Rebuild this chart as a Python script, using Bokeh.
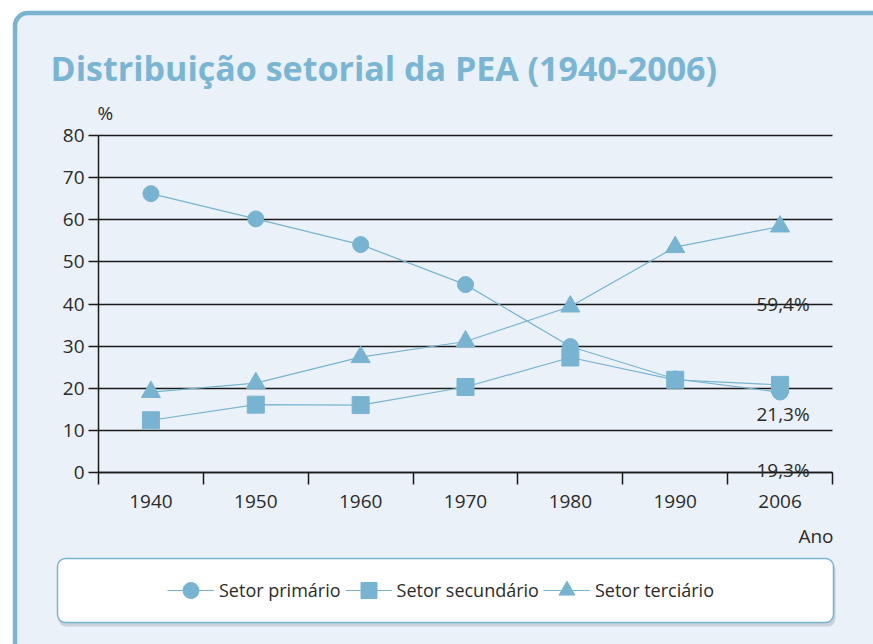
from bokeh.plotting import figure
from bokeh.models import (FixedTicker, Label, Legend, LegendItem, BoxAnnotation,
                          Range1d, ColumnDataSource, Grid)
from bokeh.embed import file_html
from bokeh.resources import INLINE

# ---- data ----
years = ["1940", "1950", "1960", "1970", "1980", "1990", "2006"]
primario = [66.2, 60.2, 54.1, 44.6, 29.9, 22.2, 19.1]
secundario = [12.4, 16.1, 16.0, 20.3, 27.3, 22.0, 20.8]
terciario = [19.1, 21.2, 27.4, 31.1, 39.4, 53.5, 58.4]
y_ticks = [0, 10, 20, 30, 40, 50, 60, 70, 80]
value_labels = ["59,4%", "21,3%", "19,3%"]
series_names = ["Setor primário", "Setor secundário", "Setor terciário"]
title_text = "Distribuição setorial da PEA (1940-2006)"

BLUE = "#78b4d1"
PANEL = "#eaf1f8"
TXT = "#2b2b2b"
DARK = "#1a1a1a"
FONT = "Open Sans"
TICK_FS = "19px"

# ---- layout (pixels) ----
W, H = 873, 644
AX_L, AX_R, AX_T, AX_B = 98, 832, 135, 472   # plotting area in pixels
YMAX = 80
n = len(years)
sx = (AX_R - AX_L) / n
sy = (AX_B - AX_T) / YMAX
x_range = Range1d(-AX_L / sx, n + (W - AX_R) / sx)
y_range = Range1d(-(H - AX_B) / sy, YMAX + AX_T / sy)

xs = [i + 0.5 for i in range(n)]
src = ColumnDataSource(dict(x=xs, p=primario, s=secundario, t=terciario))

p = figure(width=W, height=H, x_range=x_range, y_range=y_range,
           output_backend="svg", toolbar_location=None,
           min_border_left=0, min_border_right=0, min_border_top=0, min_border_bottom=0)
p.border_fill_color = "white"
p.background_fill_color = "white"
p.outline_line_color = None


def box(l, r, t, b, **kw):
    return BoxAnnotation(left=l, right=r, top=H - t, bottom=H - b,
                         left_units="screen", right_units="screen",
                         top_units="screen", bottom_units="screen", **kw)


# panel behind everything
p.add_layout(box(14.5, 1100, 12.5, 900, fill_color=PANEL, fill_alpha=1, line_color="#7ab5d0",
                 line_alpha=1, line_width=4.5, border_radius=13, level="image"))
# legend box with shadow
p.add_layout(box(58, 835, 561, 626, fill_color="#7d8894", fill_alpha=0.3, line_alpha=0,
                 border_radius=8, level="image"))
p.add_layout(box(57, 833, 558, 622, fill_color="white", fill_alpha=1, line_color="#7ab5d0",
                 line_alpha=1, line_width=1.5, border_radius=8, level="image"))

# y axis
ya = p.yaxis[0]
ya.fixed_location = 0
ya.bounds = (0, YMAX)
ya.ticker = FixedTicker(ticks=y_ticks)
ya.major_tick_out = 10
ya.major_tick_in = 0
ya.minor_tick_out = 0
ya.minor_tick_in = 0
ya.major_tick_line_color = DARK
ya.major_tick_line_width = 1.5
ya.axis_line_color = DARK
ya.axis_line_width = 1.5
ya.major_label_standoff = 4
ya.major_label_text_font = FONT
ya.major_label_text_font_size = TICK_FS
ya.major_label_text_color = TXT

# grid
p.xgrid.visible = False
p.ygrid.ticker = FixedTicker(ticks=y_ticks)
p.ygrid.grid_line_color = DARK
p.ygrid.grid_line_width = 1.5
if "cross_bounds" in Grid.properties():
    p.ygrid.cross_bounds = (0, n)
else:
    p.ygrid.visible = False
    ya.major_tick_in = AX_R - AX_L

# x axis
xa = p.xaxis[0]
xa.fixed_location = 0
xa.bounds = (0, n)
xa.ticker = FixedTicker(ticks=xs, minor_ticks=list(range(n + 1)))
xa.major_label_overrides = {x: y for x, y in zip(xs, years)}
xa.major_tick_out = 0
xa.major_tick_in = 0
xa.minor_tick_out = 12
xa.minor_tick_in = 0
xa.minor_tick_line_color = DARK
xa.minor_tick_line_width = 1.5
xa.axis_line_color = DARK
xa.axis_line_width = 1.5
xa.major_label_standoff = 10
xa.major_label_text_font = FONT
xa.major_label_text_font_size = TICK_FS
xa.major_label_text_color = TXT

# series
l1 = p.line("x", "p", source=src, line_color=BLUE, line_width=1.2)
s1 = p.scatter("x", "p", source=src, marker="circle", size=16, fill_color=BLUE, line_color=BLUE)
l2 = p.line("x", "s", source=src, line_color=BLUE, line_width=1.2)
s2 = p.scatter("x", "s", source=src, marker="square", size=17, fill_color=BLUE, line_color=BLUE)
l3 = p.line("x", "t", source=src, line_color=BLUE, line_width=1.2)
s3 = p.scatter("x", "t", source=src, marker="triangle", size=19, fill_color=BLUE, line_color=BLUE)

legend = Legend(items=[LegendItem(label=series_names[0], renderers=[l1, s1]),
                       LegendItem(label=series_names[1], renderers=[l2, s2]),
                       LegendItem(label=series_names[2], renderers=[l3, s3])],
                orientation="horizontal", location=(167, H - 610),
                glyph_width=47, glyph_height=40, label_standoff=5, spacing=4,
                padding=0, margin=0, background_fill_alpha=0, border_line_alpha=0,
                label_text_font=FONT, label_text_font_size="18px", label_text_color=TXT,
                label_text_baseline="middle")
p.add_layout(legend)

# texts
p.add_layout(Label(x=50, y=H - 67, x_units="screen", y_units="screen", text=title_text,
                   text_font=FONT, text_font_size="34px", text_font_style="bold",
                   text_color="#7ab6d3", text_baseline="middle"))
p.add_layout(Label(x=97, y=H - 112, x_units="screen", y_units="screen", text="%",
                   text_font=FONT, text_font_size=TICK_FS, text_color=TXT, text_baseline="middle"))
p.add_layout(Label(x=833, y=H - 535, x_units="screen", y_units="screen", text="Ano",
                   text_font=FONT, text_font_size=TICK_FS, text_color=TXT,
                   text_align="right", text_baseline="middle"))

label_y = [40.1, 13.8, 0.55]
for txt, yy in zip(value_labels, label_y):
    p.add_layout(Label(x=xs[-1], y=yy, x_offset=3, text=txt, text_font=FONT, text_font_size=TICK_FS,
                       text_color=TXT, text_align="center", text_baseline="middle"))

open("out.html", "w").write(file_html(p, INLINE))
